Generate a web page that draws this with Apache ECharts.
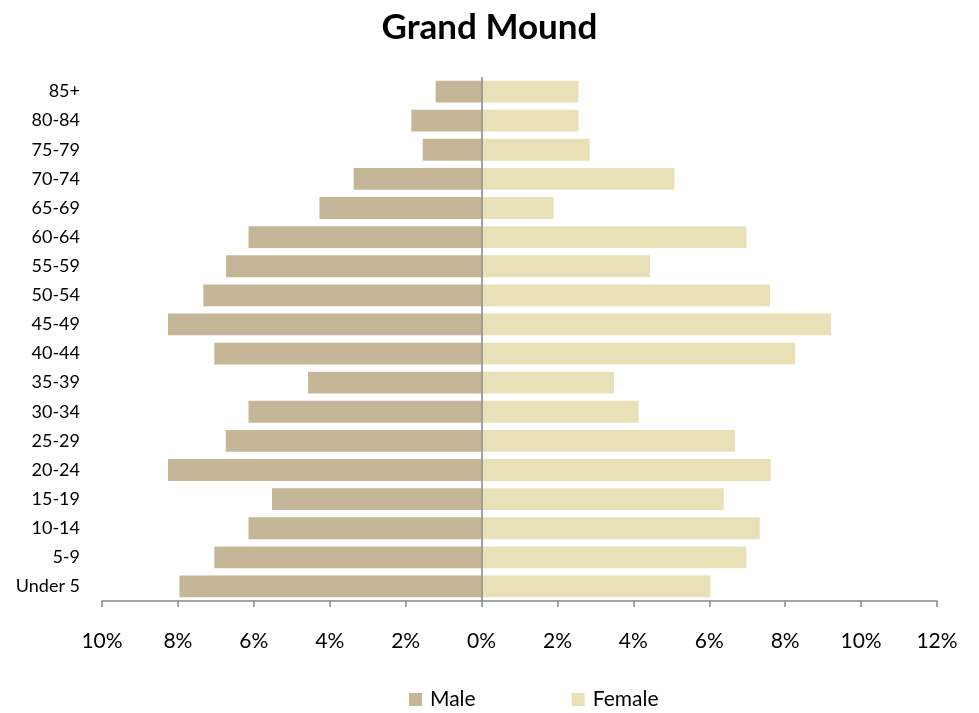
<!DOCTYPE html>
<html><head><meta charset="utf-8">
<script src="https://cdn.jsdelivr.net/npm/echarts@6/dist/echarts.min.js"></script>
<style>html,body{margin:0;padding:0;background:#fff}#c{width:979px;height:713px}</style>
</head><body><div id="c"></div>
<script>
const ageGroups = ["Under 5","5-9","10-14","15-19","20-24","25-29","30-34","35-39","40-44","45-49","50-54","55-59","60-64","65-69","70-74","75-79","80-84","85+"];
const maleValues = [7.96,7.04,6.14,5.52,8.26,6.74,6.14,4.57,7.04,8.26,7.33,6.73,6.14,4.27,3.37,1.55,1.85,1.21];
const femaleValues = [6.03,6.98,7.33,6.38,7.62,6.68,4.14,3.49,8.26,9.21,7.60,4.44,6.98,1.90,5.08,2.85,2.55,2.55];
const xTicks = [-10,-8,-6,-4,-2,0,2,4,6,8,10,12];

const font = 'Lato, "Open Sans", sans-serif';
const chart = echarts.init(document.getElementById('c'), null, {renderer:'canvas'});
chart.setOption({
  animation:false,
  backgroundColor:'#fff',
  title:{text:'Grand Mound', left:'center', top:5, textStyle:{fontFamily:font, fontSize:35, fontWeight:'bold', color:'#000'}},
  legend:{top:684, left:404, itemWidth:13, itemHeight:13, itemGap:96, icon:'rect',
    textStyle:{fontFamily:font, fontSize:21, color:'#000', padding:[0,0,0,3]}, data:['Male','Female']},
  grid:{left:102, right:42, top:77, bottom:112, containLabel:false},
  xAxis:{type:'value', min:xTicks[0], max:xTicks[xTicks.length-1], interval:2,
    axisLine:{show:true, onZero:false, lineStyle:{color:'#868686', width:1.5}},
    axisTick:{show:true, length:6, inside:false, lineStyle:{color:'#868686', width:1.5}},
    splitLine:{show:false},
    axisLabel:{margin:30, fontFamily:font, fontSize:21, color:'#000', formatter:v=>Math.abs(v)+'%'}},
  yAxis:{type:'category', data:ageGroups,
    axisLine:{show:false}, axisTick:{show:false},
    axisLabel:{margin:22, fontFamily:font, fontSize:18, color:'#000'}},
  series:[
    {name:'Male', type:'bar', data:maleValues.map(v=>-v), barWidth:'75%', barGap:'-100%',
     itemStyle:{color:'#c4b696'},
     markLine:{silent:true, symbol:'none', label:{show:false},
       lineStyle:{color:'#868686', width:1.5, type:'solid'}, data:[{xAxis:0}]}},
    {name:'Female', type:'bar', data:femaleValues, barWidth:'75%', barGap:'-100%',
     itemStyle:{color:'#e8e1b7'}}
  ]
});
</script></body></html>
